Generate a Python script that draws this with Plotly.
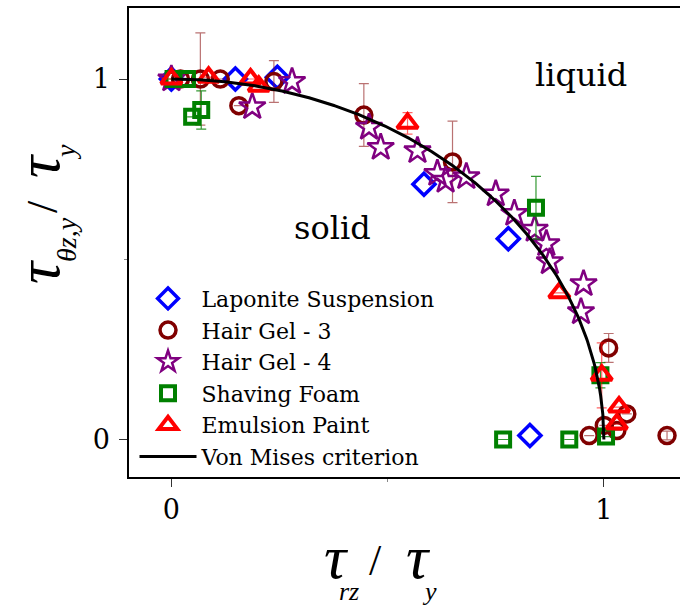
import numpy as np
import plotly.graph_objects as go

# Normalised stresses at yield for each material
lap_x = [0.0, 0.148, 0.245, 0.584, 0.779, 0.829]
lap_y = [1.0, 1.0, 1.005, 0.708, 0.557, 0.011]

hg3_x = [0.021, 0.067, 0.113, 0.156, 0.237, 0.445, 0.650, 0.966, 1.001, 1.011, 1.030, 1.053, 1.146]
hg3_y = [1.0, 1.0, 1.0, 0.926, 0.993, 0.900, 0.770, 0.011, 0.039, 0.254, 0.025, 0.071, 0.011]
hg3_err = [0, 0.128, 0, 0, 0.058, 0.087, 0.113, 0, 0, 0.04, 0, 0, 0.012]

hg4_x = [0.0, 0.187, 0.279, 0.457, 0.484, 0.569, 0.615, 0.634, 0.682, 0.750,
         0.793, 0.840, 0.867, 0.875, 0.953, 0.947]
hg4_y = [1.0, 0.923, 0.993, 0.866, 0.810, 0.801, 0.738, 0.719, 0.729, 0.681,
         0.627, 0.583, 0.543, 0.493, 0.432, 0.354]

sf_x = [0.005, 0.036, 0.048, 0.069, 0.843, 0.767, 0.920, 0.992, 1.005]
sf_y = [1.0, 1.0, 0.895, 0.914, 0.643, 0.0, 0.0, 0.178, 0.008]
sf_err = [0, 0, 0, 0.053, 0.087, 0, 0, 0.035, 0]

ep_x = [0.0, 0.086, 0.183, 0.202, 0.546, 0.897, 0.995, 1.035, 1.030]
ep_y = [1.0, 1.005, 1.0, 0.98, 0.877, 0.407, 0.178, 0.09, 0.043]
ep_err = [0, 0, 0, 0, 0.03, 0, 0.09, 0, 0]

tick_vals = [0, 1]
tick_text = ["0", "1"]

# von Mises yield surface: (τrz/τy)^2 + (τθz/τy)^2 = 1
vm_x = np.linspace(0.0, 1.0, 400)
vm_y = np.sqrt(np.clip(1.0 - vm_x ** 2, 0.0, None))

SERIF = "DejaVu Serif"
GREEK = "Liberation Serif"

W, H = 680, 606
ML, MR, MT, MB = 129, 0, 8, 129

fig = go.Figure()

fig.add_trace(go.Scatter(
    x=lap_x, y=lap_y, mode="markers", name="Laponite Suspension",
    marker=dict(symbol="diamond-open", size=17, color="#0000ff",
                line=dict(width=3.5, color="#0000ff")),
))
fig.add_trace(go.Scatter(
    x=hg3_x, y=hg3_y, mode="markers", name="Hair Gel - 3",
    marker=dict(symbol="circle-open", size=16, color="#800000",
                line=dict(width=3.5, color="#800000")),
    error_y=dict(type="data", array=hg3_err, color="rgba(140,20,20,0.6)",
                 thickness=1.2, width=5),
))
fig.add_trace(go.Scatter(
    x=hg4_x, y=hg4_y, mode="markers", name="Hair Gel - 4",
    marker=dict(symbol="star-open", size=20, color="#800080",
                line=dict(width=2.5, color="#800080")),
))
fig.add_trace(go.Scatter(
    x=sf_x, y=sf_y, mode="markers", name="Shaving Foam",
    marker=dict(symbol="square-open", size=14, color="#008000",
                line=dict(width=4, color="#008000")),
    error_y=dict(type="data", array=sf_err, color="rgba(0,128,0,0.8)",
                 thickness=1.2, width=5),
))
fig.add_trace(go.Scatter(
    x=ep_x, y=ep_y, mode="markers", name="Emulsion Paint",
    marker=dict(symbol="triangle-up-open", size=18, color="#ff0000",
                line=dict(width=4, color="#ff0000")),
    error_y=dict(type="data", array=ep_err, color="rgba(255,0,0,0.6)",
                 thickness=1.2, width=5),
))
fig.add_trace(go.Scatter(
    x=vm_x, y=vm_y, mode="lines", name="Von Mises criterion",
    line=dict(color="black", width=3),
))

fig.add_annotation(x=0.947, y=1.011, xref="x", yref="y", text="liquid",
                   showarrow=False, font=dict(family=SERIF, size=32, color="black"))
fig.add_annotation(x=0.373, y=0.586, xref="x", yref="y", text="solid",
                   showarrow=False, font=dict(family=SERIF, size=32, color="black"))


def px_label(text, px, py, size, family=GREEK, angle=0):
    """Place a text piece centred on a pixel position of the page."""
    fig.add_annotation(
        x=(px - ML) / (W - ML - MR), y=(H - py - MB) / (H - MT - MB),
        xref="paper", yref="paper", xanchor="center", yanchor="middle",
        text=text, textangle=angle, showarrow=False,
        font=dict(family=family, size=size, color="black"),
    )


# x-axis title: τ_rz / τ_y
px_label("<i>τ</i>", 336, 557, 62)
px_label("<i>rz</i>", 349, 591, 26)
px_label("/", 375, 560, 44)
px_label("<i>τ</i>", 418, 557, 62)
px_label("<i>y</i>", 429, 591, 26)

# y-axis title: τ_θz,y / τ_y (reads bottom to top)
px_label("<i>τ</i>", 38, 272, 62, angle=-90)
px_label("<i>θz,y</i>", 66, 240, 28, angle=-90)
px_label("/", 42, 207, 44, angle=-90)
px_label("<i>τ</i>", 38, 166, 62, angle=-90)
px_label("<i>y</i>", 66, 152, 28, angle=-90)

axis_common = dict(
    showline=True, linecolor="black", linewidth=1.5,
    ticks="outside", ticklen=8, tickwidth=1.2, tickcolor="#333",
    tickvals=tick_vals, ticktext=tick_text,
    showgrid=False, zeroline=False,
    tickfont=dict(family=SERIF, size=27, color="black"),
    minor=dict(tickvals=[0.5], ticks="outside", ticklen=3, tickcolor="#888"),
)

fig.update_layout(
    width=W, height=H,
    margin=dict(l=ML, r=MR, t=MT, b=MB),
    paper_bgcolor="white", plot_bgcolor="white",
    xaxis=dict(range=[-0.098, 1.176], mirror=True, **axis_common),
    yaxis=dict(range=[-0.104, 1.197], mirror=False, ticklabelstandoff=4, **axis_common),
    showlegend=True,
    legend=dict(
        x=0.01, y=0.425, xanchor="left", yanchor="top",
        bgcolor="rgba(0,0,0,0)", borderwidth=0,
        font=dict(family=SERIF, size=22, color="black"),
        itemwidth=57, tracegroupgap=0,
    ),
)

fig.write_html("out.html")
